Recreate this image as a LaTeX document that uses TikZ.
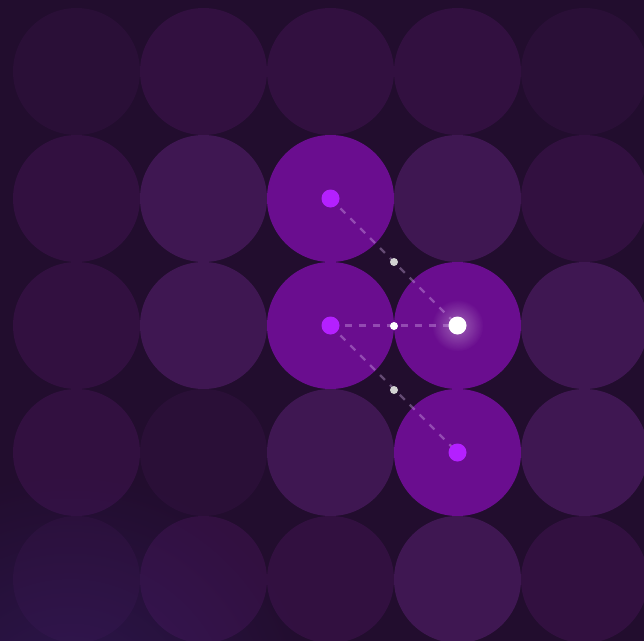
\documentclass[tikz,border=0pt]{standalone}
\usetikzlibrary{fadings}
\definecolor{bg}{RGB}{34,13,46}
\definecolor{cdark}{RGB}{42,15,55}
\definecolor{cmed}{RGB}{50,16,64}
\definecolor{clight}{RGB}{63,23,82}
\definecolor{cbright}{RGB}{106,13,143}
\definecolor{dotmag}{RGB}{180,32,255}
\definecolor{glowblue}{RGB}{60,35,120}
\definecolor{linkcol}{RGB}{225,190,245}
\tikzfading[name=radfade, inner color=transparent!0, outer color=transparent!100]
\tikzset{
  cell/.style={circle, inner sep=0pt, minimum size=127pt, draw=none},
  bigdot/.style={circle, inner sep=0pt, minimum size=18pt, fill=dotmag},
  whitedot/.style={circle, inner sep=0pt, minimum size=18pt, fill=white},
  middot/.style={circle, inner sep=0pt, minimum size=8pt, fill=white!70!gray},
  link/.style={draw=linkcol, draw opacity=0.35, line width=2.2pt, dash pattern=on 7pt off 7pt}
}
\begin{document}
\begin{tikzpicture}[x=1pt,y=-1pt]
\useasboundingbox (0,0) rectangle (644,640);
\fill[bg] (-4,-4) rectangle (648,644);
\begin{scope}
% grid of circles
\foreach \r/\c/\col in {
 0/0/cdark,0/1/cmed,0/2/cmed,0/3/cmed,0/4/cdark,
 1/0/cmed,1/1/clight,1/2/cbright,1/3/clight,1/4/cmed,
 2/0/cmed,2/1/clight,2/2/cbright,2/3/cbright,2/4/clight,
 3/0/cmed,3/1/cdark,3/2/clight,3/3/cbright,3/4/clight,
 4/0/cdark,4/1/cmed,4/2/cmed,4/3/clight,4/4/cmed}{
  \node[cell, fill=\col] (c\r\c) at ({76.5+127*\c},{71.5+127*\r}) {};
}
% bottom-left glow
\begin{scope}
\clip (-4,-4) rectangle (648,644);
\fill[glowblue, fill opacity=0.45, path fading=radfade] (70,720) circle (250);
\end{scope}
% white dot glow
\fill[white, fill opacity=0.35, path fading=radfade] (c23.center) circle (26);
\end{scope}
% links
\draw[link] (c12.center) -- (c23.center);
\draw[link] (c22.center) -- (c23.center);
\draw[link] (c22.center) -- (c33.center);
% dots
\node[bigdot] (a) at (c12.center) {};
\node[bigdot] (b) at (c22.center) {};
\node[bigdot] (d) at (c33.center) {};
\node[whitedot] (w) at (c23.center) {};
\node[middot, fill=white!65!gray] (p1) at (394,262) {};
\node[middot, fill=white] (p2) at (394,326) {};
\node[middot, fill=white!65!gray] (p3) at (394,390) {};
\end{tikzpicture}
\end{document}
